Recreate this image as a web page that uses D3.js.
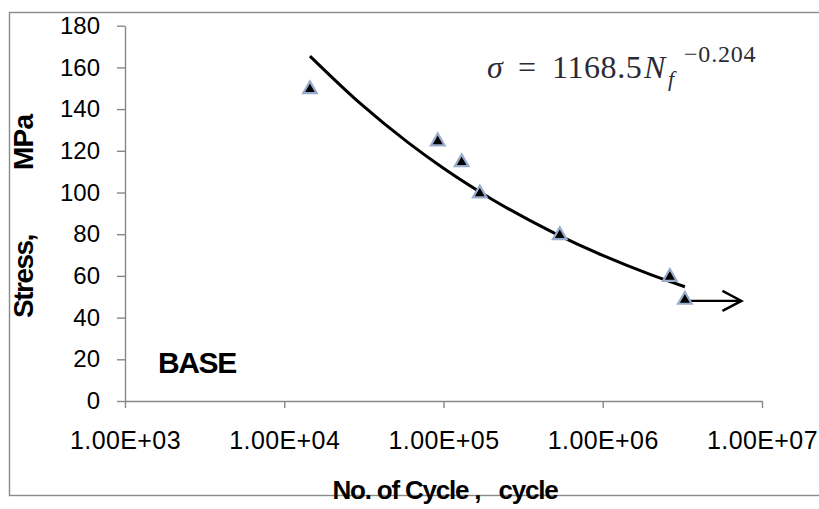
<!DOCTYPE html>
<html>
<head>
<meta charset="utf-8">
<script src="https://cdn.jsdelivr.net/npm/d3@7"></script>
<style>
  body { margin: 0; background: #fff; }
  text { font-family: "Liberation Sans", Arial, sans-serif; }
  text.eq { font-family: "Liberation Serif", "DejaVu Serif", serif; }
</style>
</head>
<body>
<div id="image"></div>
<script>
// test points (cycles to failure, stress MPa)
const cycles = [14500, 92000, 130000, 169000, 537000, 2640000, 3280000];
const stress = [150, 125, 115, 100, 80, 60, 49];

// power trendline
const trendCycles = [14500, 30000, 60000, 100000, 200000, 500000, 1000000, 2000000, 3280000];
const trendStress = [165.4, 142.7, 123.9, 111.6, 96.9, 80.4, 69.8, 60.6, 54.8];

// run-out arrow
const arrowCycles = [3400000, 7430000];
const arrowStress = [48, 48];

const xTicks = [1e3, 1e4, 1e5, 1e6, 1e7];
const yTicks = [0, 20, 40, 60, 80, 100, 120, 140, 160, 180];

var w = 819,
    h = 509,
    plotLeft = 125,
    plotRight = 762,
    plotTop = 25.7,
    plotBottom = 401;

var svg = d3.select("#image").append("svg")
    .attr("width", w)
    .attr("height", h);

// outer frame
svg.append("rect")
    .attr("x", 9.5).attr("y", 12.5)
    .attr("width", 830).attr("height", 483)
    .attr("fill", "none")
    .attr("stroke", "#8a8a8a")
    .attr("stroke-width", 1.4);

var x = d3.scaleLog().domain([1e3, 1e7]).range([plotLeft, plotRight]);
var y = d3.scaleLinear().domain([0, 180]).range([plotBottom, plotTop]);

var xAxis = svg.append("g")
    .attr("transform", "translate(0," + plotBottom + ")")
    .call(d3.axisBottom(x).tickValues(xTicks).tickSize(7).tickSizeOuter(0).tickPadding(23)
        .tickFormat(d => "1.00E+0" + Math.round(Math.log10(d))));

var yAxis = svg.append("g")
    .attr("transform", "translate(" + plotLeft + ",0)")
    .call(d3.axisLeft(y).tickValues(yTicks).tickSize(8).tickSizeOuter(0).tickPadding(17));

[xAxis, yAxis].forEach(g => {
    g.selectAll("path, line").attr("stroke", "#888").attr("stroke-width", 1.4);
    g.selectAll("text").attr("fill", "#000");
});
xAxis.selectAll("text").style("font-size", "25px").attr("letter-spacing", 0.4);
yAxis.selectAll("text").style("font-size", "24px");

// trendline
var trend = trendCycles.map((c, i) => [c, trendStress[i]]);
svg.append("path")
    .datum(trend)
    .attr("fill", "none")
    .attr("stroke", "#000")
    .attr("stroke-width", 3)
    .attr("d", d3.line().x(d => x(d[0])).y(d => y(d[1])).curve(d3.curveMonotoneX));

// arrow
var ax0 = x(arrowCycles[0]), ay0 = y(arrowStress[0]),
    ax1 = x(arrowCycles[1]), ay1 = y(arrowStress[1]);
svg.append("path")
    .attr("d", "M" + ax0 + "," + ay0 + "L" + ax1 + "," + ay1 +
        "M" + (ax1 - 19) + "," + (ay1 - 10) + "L" + ax1 + "," + ay1 + "L" + (ax1 - 19) + "," + (ay1 + 10))
    .attr("fill", "none")
    .attr("stroke", "#000")
    .attr("stroke-width", 2.4);

// markers
svg.selectAll("path.pt")
    .data(cycles.map((c, i) => [c, stress[i]]))
    .enter().append("path")
    .attr("class", "pt")
    .attr("transform", d => "translate(" + x(d[0]) + "," + (y(d[1]) + 1) + ")")
    .attr("d", d3.symbol().type(d3.symbolTriangle).size(80))
    .attr("fill", "#000")
    .attr("stroke", "#9aaccc")
    .attr("stroke-width", 2.2);

// equation
var eq = svg.append("g").attr("fill", "#2b2b36");
eq.append("text").attr("class", "eq").attr("x", 487).attr("y", 78).style("font-size", "32px").style("font-style", "italic").text("σ");
eq.append("text").attr("class", "eq").attr("x", 518).attr("y", 78).style("font-size", "32px").text("=");
eq.append("text").attr("class", "eq").attr("x", 552).attr("y", 78).style("font-size", "32px").attr("letter-spacing", 0.6).text("1168.5");
eq.append("text").attr("class", "eq").attr("x", 644).attr("y", 78).style("font-size", "32px").style("font-style", "italic").text("N");
eq.append("text").attr("class", "eq").attr("x", 668).attr("y", 86).style("font-size", "22px").style("font-style", "italic").text("f");
eq.append("text").attr("class", "eq").attr("x", 684).attr("y", 62).style("font-size", "24px").attr("letter-spacing", 0.8).text("\u22120.204");

// labels
svg.append("text")
    .attr("x", 158).attr("y", 373)
    .style("font-size", "30px").style("font-weight", "bold")
    .attr("letter-spacing", -1.4)
    .text("BASE");

svg.append("text")
    .attr("transform", "translate(33,318) rotate(-90)")
    .style("font-size", "28px").style("font-weight", "bold")
    .attr("letter-spacing", -1.5)
    .text("Stress,");
svg.append("text")
    .attr("transform", "translate(33,170) rotate(-90)")
    .style("font-size", "28px").style("font-weight", "bold")
    .attr("letter-spacing", -0.8)
    .text("MPa");

svg.append("text")
    .attr("x", 445).attr("y", 499)
    .attr("text-anchor", "middle")
    .style("font-size", "26px").style("font-weight", "bold")
    .style("white-space", "pre")
    .attr("letter-spacing", -1.2)
    .text("No. of Cycle ,   cycle");
</script>
</body>
</html>
